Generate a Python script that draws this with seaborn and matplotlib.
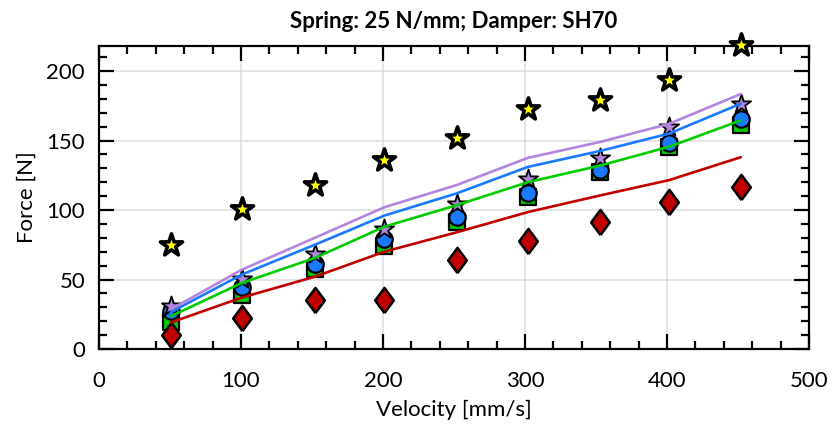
import numpy as np
import pandas as pd
import matplotlib
matplotlib.use("Agg")
import matplotlib.pyplot as plt
from matplotlib.ticker import MultipleLocator
import seaborn as sns

# Measured piston velocities [mm/s]
velocity = [50.5, 100.5, 152, 201, 252, 302, 353, 401.5, 452]

# Measured forces [N]
force_star_yellow = [75, 101, 118, 136, 152, 173, 179.5, 193.5, 218.5]
force_star_purple = [31, 50.5, 68.5, 86, 104.5, 122.5, 137.5, 159.5, 176.5]
force_circle_blue = [27.5, 44.5, 61.5, 79, 95, 112, 128.5, 148, 165.5]
force_square_green = [19.5, 38.5, 57.5, 74, 91.5, 109.5, 127, 145.5, 161]
force_diamond_red = [10, 22.5, 35, 35, 64, 77.5, 91.5, 105.5, 116.5]

# Model curves [N]
model_purple = [28.5, 57, 80, 102, 118, 137.5, 149, 162, 183.5]
model_blue = [26.5, 53.5, 75, 96, 112, 131, 142.5, 155, 176.5]
model_green = [23.5, 47.5, 65.5, 88, 103.5, 120, 132, 145.5, 164.5]
model_red = [19, 37, 52, 70, 84, 98.5, 110.5, 121.5, 138]

title = "Spring: 25 N/mm; Damper: SH70"
xlabel = "Velocity [mm/s]"
ylabel = "Force [N]"

sns.set_theme(style="ticks")
plt.rcParams["font.family"] = ["Lato", "DejaVu Sans"]
plt.rcParams["text.color"] = "black"
plt.rcParams["axes.labelcolor"] = "black"

fig = plt.figure(figsize=(8.34, 4.28), dpi=100)
ax = fig.add_axes([0.1187, 0.1846, 0.970 - 0.1187, 0.8925 - 0.1846])

# thin diamond marker
diamond = [(0, -1), (0.74, 0), (0, 1), (-0.74, 0), (0, -1)]

scatter_specs = [
    (force_square_green, "s", "#00cc00", 130, 1.6, 3),
    (force_circle_blue, "o", "#1a7aff", 140, 1.6, 4),
    (force_star_purple, "*", "#b385e0", 210, 1.3, 5),
    (force_diamond_red, diamond, "#c00000", 330, 1.8, 3),
    (force_star_yellow, "*", "#ffff00", 280, 2.6, 3),
]
for values, marker, color, size, lw, z in scatter_specs:
    df = pd.DataFrame({"v": velocity, "F": values})
    sns.scatterplot(data=df, x="v", y="F", ax=ax, marker=marker, color=color,
                    s=size, edgecolor="black", linewidth=lw, zorder=z,
                    clip_on=False, legend=False)

line_specs = [
    (model_red, "#c00000"),
    (model_green, "#00cc00"),
    (model_blue, "#1a7aff"),
    (model_purple, "#b385e0"),
]
for values, color in line_specs:
    df = pd.DataFrame({"v": velocity, "F": values})
    sns.lineplot(data=df, x="v", y="F", ax=ax, color=color, linewidth=1.9,
                 zorder=6, legend=False)

ax.set_xlim(0, 500)
ax.set_ylim(0, 218)
ax.xaxis.set_major_locator(MultipleLocator(100))
ax.xaxis.set_minor_locator(MultipleLocator(20))
ax.yaxis.set_major_locator(MultipleLocator(50))
ax.yaxis.set_minor_locator(MultipleLocator(10))

ax.grid(True, which="major", color="#dcdcdc", linewidth=1.1)
ax.set_axisbelow(True)
for sp in ax.spines.values():
    sp.set_visible(True)
    sp.set_linewidth(1.6)
    sp.set_color("black")

ax.tick_params(which="both", direction="in", top=True, right=True,
               colors="black", labelsize=16, width=1.6)
ax.tick_params(which="major", length=11)
ax.tick_params(axis="x", which="major", pad=16)
ax.tick_params(axis="y", which="major", pad=10)
ax.tick_params(which="minor", length=6)

ax.set_title(title, fontsize=16, fontweight="bold", pad=13)
ax.set_xlabel(xlabel, fontsize=16, labelpad=6)
ax.set_ylabel(ylabel, fontsize=16, labelpad=7)

fig.savefig("out.png", dpi=100)
